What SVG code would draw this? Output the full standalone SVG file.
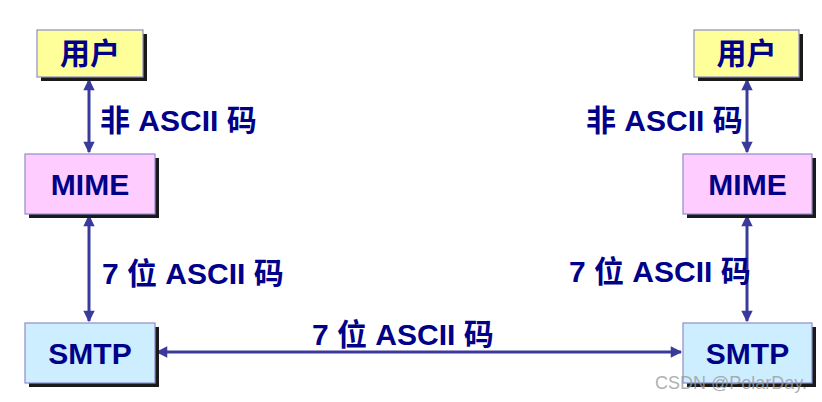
<svg xmlns="http://www.w3.org/2000/svg" width="822" height="402" viewBox="0 0 822 402">
<defs>
<style>
.box{stroke:#8c8cd0;stroke-width:1.2}
.sh{fill:#1a1a1a}
.user{fill:#ffff99}
.mime{fill:#ffccff}
.smtp{fill:#cceeff}
.t{font-family:"Liberation Sans","Noto Sans CJK SC",sans-serif;font-weight:bold;font-size:30px;fill:#000088}
.tb{text-anchor:middle}
.c{stroke:#3a3a9c;stroke-width:3;fill:none;marker-start:url(#ah);marker-end:url(#ah)}
</style>
<marker id="ah" viewBox="0 0 10 10" refX="9" refY="5" markerWidth="4.5" markerHeight="3.8" orient="auto-start-reverse" markerUnits="strokeWidth">
<path d="M0,0 L10,5 L0,10 z" fill="#3a3a9c"/>
</marker>
</defs>
<rect width="822" height="402" fill="#ffffff"/>
<g id="connectors">
<line class="c" x1="89" y1="80" x2="89" y2="152"/>
<line class="c" x1="89" y1="216" x2="89" y2="321"/>
<line class="c" x1="747" y1="80" x2="747" y2="152"/>
<line class="c" x1="747" y1="216" x2="747" y2="321"/>
<line class="c" x1="157" y1="352" x2="681" y2="352"/>
</g>
<g id="user-left">
<rect class="sh" x="41" y="34" width="106" height="47"/>
<rect class="box user" x="37" y="30" width="106" height="47"/>
<text class="t tb" x="90" y="64">用户</text>
</g>
<g id="user-right">
<rect class="sh" x="698" y="34" width="105" height="47"/>
<rect class="box user" x="694" y="30" width="105" height="47"/>
<text class="t tb" x="746.5" y="64">用户</text>
</g>
<g id="mime-left">
<rect class="sh" x="29" y="158" width="130" height="60"/>
<rect class="box mime" x="25" y="154" width="130" height="60"/>
<text class="t tb" x="90" y="195">MIME</text>
</g>
<g id="mime-right">
<rect class="sh" x="687" y="158" width="129" height="60"/>
<rect class="box mime" x="683" y="154" width="129" height="60"/>
<text class="t tb" x="747.5" y="195">MIME</text>
</g>
<g id="smtp-left">
<rect class="sh" x="29" y="327" width="130" height="60"/>
<rect class="box smtp" x="25" y="323" width="130" height="60"/>
<text class="t tb" x="90" y="364">SMTP</text>
</g>
<g id="smtp-right">
<rect class="sh" x="687" y="327" width="129" height="60"/>
<rect class="box smtp" x="683" y="323" width="129" height="60"/>
<text class="t tb" x="747.5" y="364">SMTP</text>
</g>
<g id="labels">
<text class="t" x="100" y="131">非 ASCII 码</text>
<text class="t" x="586" y="131">非 ASCII 码</text>
<text class="t" x="102" y="284">7 位 ASCII 码</text>
<text class="t" x="569" y="282">7 位 ASCII 码</text>
<text class="t" x="312" y="345">7 位 ASCII 码</text>
</g>
<text x="655" y="389" font-family="Liberation Sans, sans-serif" font-size="18" fill="#9a9a9a" fill-opacity="0.8">CSDN @PolarDay.</text>
</svg>
